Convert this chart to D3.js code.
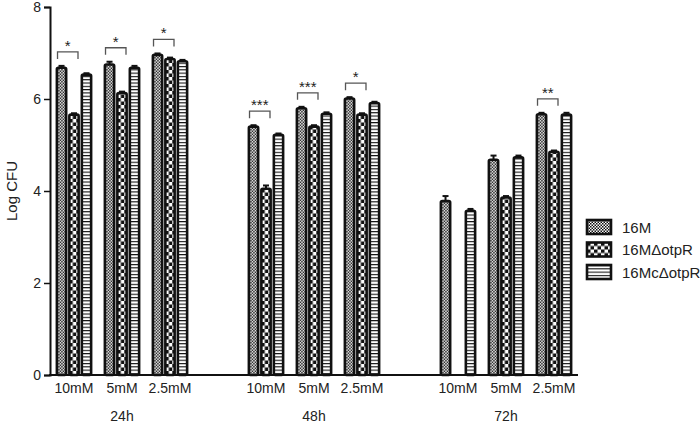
<!DOCTYPE html>
<html>
<head>
<meta charset="utf-8">
<script src="https://cdn.jsdelivr.net/npm/d3@7"></script>
<style>
  body { margin: 0; background: #fff; }
  text { font-family: "Liberation Sans", Arial, Helvetica, sans-serif; fill: #222; }
</style>
</head>
<body>
<svg id="chart" width="700" height="423"></svg>
<script>
var times = ['24h', '48h', '72h']
var concs = ['10mM', '5mM', '2.5mM']
var series = ['16M', '16M\u0394otpR', '16Mc\u0394otpR']

// one value per time/concentration, in order 24h 10,5,2.5 / 48h ... / 72h ...
var wt = [6.68, 6.75, 6.96, 5.40, 5.80, 6.01, 3.78, 4.68, 5.67]
var wtErr = [0.04, 0.06, 0.03, 0.03, 0.03, 0.03, 0.11, 0.09, 0.03]
var mut = [5.66, 6.13, 6.87, 4.05, 5.40, 5.66, 0, 3.86, 4.85]
var mutErr = [0.03, 0.03, 0.03, 0.07, 0.03, 0.03, 0, 0.03, 0.03]
var comp = [6.53, 6.68, 6.82, 5.22, 5.68, 5.91, 3.57, 4.73, 5.66]
var compErr = [0.03, 0.04, 0.03, 0.03, 0.03, 0.03, 0.04, 0.04, 0.04]
var stars = ['*', '*', '*', '***', '***', '*', '', '', '**']
var yTicks = [0, 2, 4, 6, 8]

var svg = d3.select('#chart')

// patterns
var defs = svg.append('defs')

var p1 = defs.append('pattern').attr('id', 'pWt')
  .attr('patternUnits', 'userSpaceOnUse').attr('width', 3).attr('height', 3)
p1.append('rect').attr('width', 3).attr('height', 3).attr('fill', '#fff')
p1.append('rect').attr('width', 1.5).attr('height', 1.5).attr('fill', '#111')
p1.append('rect').attr('x', 1.5).attr('y', 1.5).attr('width', 1.5).attr('height', 1.5).attr('fill', '#111')

var p2 = defs.append('pattern').attr('id', 'pMut')
  .attr('patternUnits', 'userSpaceOnUse').attr('width', 7).attr('height', 7)
p2.append('rect').attr('width', 7).attr('height', 7).attr('fill', '#fff')
p2.append('rect').attr('width', 3.5).attr('height', 3.5).attr('fill', '#111')
p2.append('rect').attr('x', 3.5).attr('y', 3.5).attr('width', 3.5).attr('height', 3.5).attr('fill', '#111')

var p3 = defs.append('pattern').attr('id', 'pComp')
  .attr('patternUnits', 'userSpaceOnUse').attr('width', 4).attr('height', 3.3)
p3.append('rect').attr('width', 4).attr('height', 3.3).attr('fill', '#fff')
p3.append('rect').attr('width', 4).attr('height', 1.1).attr('fill', '#111')

var fills = ['url(#pWt)', 'url(#pMut)', 'url(#pComp)']

// slots: three concentrations per time point, one empty slot between time points
var slots = []
times.forEach(function (t, i) {
  concs.forEach(function (c) { slots.push(t + '|' + c) })
  if (i < times.length - 1) slots.push('gap' + i)
})

var x = d3.scaleBand().domain(slots).range([50, 578])
  .paddingInner(0.22).paddingOuter(0.11)
var xs = d3.scaleBand().domain(series).range([0, x.bandwidth()])
var y = d3.scaleLinear().domain([0, 8]).range([375, 7])

var rows = []
times.forEach(function (t, ti) {
  concs.forEach(function (c, ci) {
    var k = ti * 3 + ci
    rows.push({
      key: t + '|' + c, time: t, conc: c, star: stars[k],
      bars: [
        { s: series[0], v: wt[k], e: wtErr[k], f: fills[0] },
        { s: series[1], v: mut[k], e: mutErr[k], f: fills[1] },
        { s: series[2], v: comp[k], e: compErr[k], f: fills[2] }
      ]
    })
  })
})

var groups = svg.selectAll('g.grp').data(rows)
  .enter().append('g')
    .attr('class', 'grp')
    .attr('transform', function (d) { return 'translate(' + x(d.key) + ',0)' })

var bars = groups.selectAll('g.bar')
  .data(function (d) { return d.bars.filter(function (b) { return b.v > 0 }) })
  .enter().append('g')
    .attr('class', 'bar')

bars.append('rect')
  .attr('x', function (d) { return xs(d.s) + 1.6 })
  .attr('y', function (d) { return y(d.v) })
  .attr('width', xs.bandwidth() - 3.2)
  .attr('height', function (d) { return y(0) - y(d.v) })
  .attr('fill', function (d) { return d.f })
  .attr('stroke', '#111')
  .attr('stroke-width', 2.6)
  .attr('rx', 1.5)

bars.append('line')
  .attr('x1', function (d) { return xs(d.s) + xs.bandwidth() / 2 })
  .attr('x2', function (d) { return xs(d.s) + xs.bandwidth() / 2 })
  .attr('y1', function (d) { return y(d.v) })
  .attr('y2', function (d) { return y(d.v + d.e) })
  .attr('stroke', '#111').attr('stroke-width', 2)

bars.append('line')
  .attr('x1', function (d) { return xs(d.s) + xs.bandwidth() / 2 - 3 })
  .attr('x2', function (d) { return xs(d.s) + xs.bandwidth() / 2 + 3 })
  .attr('y1', function (d) { return y(d.v + d.e) })
  .attr('y2', function (d) { return y(d.v + d.e) })
  .attr('stroke', '#111').attr('stroke-width', 2)

// significance brackets between 16M and the deletion mutant
var sig = groups.filter(function (d) { return d.star })
sig.each(function (d) {
  var g = d3.select(this)
  var top = d3.min(d.bars.slice(0, 2), function (b) { return y(b.v + b.e) })
  var by = top - 14
  var x1 = xs(series[0]) + xs.bandwidth() / 2 - 4
  var x2 = xs(series[1]) + xs.bandwidth() / 2 + 4
  g.append('path')
    .attr('d', 'M' + x1 + ',' + (by + 7) + 'V' + by + 'H' + x2 + 'V' + (by + 7))
    .attr('fill', 'none').attr('stroke', '#555').attr('stroke-width', 1.3)
  g.append('text')
    .attr('x', (x1 + x2) / 2)
    .attr('y', by - 1)
    .attr('text-anchor', 'middle')
    .style('font-size', '15px')
    .text(d.star)
})

// axes
var yAxis = d3.axisLeft(y).tickValues(yTicks).tickSize(6).tickPadding(3)
var ya = svg.append('g').attr('transform', 'translate(50,0)').call(yAxis)
ya.select('.domain').attr('stroke', '#111').attr('stroke-width', 2)
ya.selectAll('.tick line').attr('stroke', '#111').attr('stroke-width', 1.5)
ya.selectAll('.tick text').style('font-size', '14px').attr('fill', '#222')
  .style('font-family', '"Liberation Sans", Arial, sans-serif')

svg.append('line')
  .attr('x1', 49).attr('x2', 578)
  .attr('y1', y(0)).attr('y2', y(0))
  .attr('stroke', '#111').attr('stroke-width', 2)

svg.selectAll('text.conc').data(rows)
  .enter().append('text')
    .attr('class', 'conc')
    .attr('x', function (d) { return x(d.key) + x.bandwidth() / 2 })
    .attr('y', 393)
    .attr('text-anchor', 'middle')
    .style('font-size', '14px')
    .text(function (d) { return d.conc })

svg.selectAll('text.time').data(times)
  .enter().append('text')
    .attr('class', 'time')
    .attr('x', function (t) {
      return (x(t + '|' + concs[0]) + x(t + '|' + concs[2]) + x.bandwidth()) / 2
    })
    .attr('y', 421)
    .attr('text-anchor', 'middle')
    .style('font-size', '14px')
    .text(function (t) { return t })

svg.append('text')
  .attr('transform', 'translate(17,' + y(4) + ') rotate(-90)')
  .attr('text-anchor', 'middle')
  .style('font-size', '15px')
  .text('Log CFU')

// legend
var legend = svg.selectAll('g.leg').data(series)
  .enter().append('g')
    .attr('class', 'leg')
    .attr('transform', function (d, i) { return 'translate(587,' + (220 + i * 22.5) + ')' })

legend.append('rect')
  .attr('width', 24).attr('height', 14)
  .attr('fill', function (d, i) { return fills[i] })
  .attr('stroke', '#111').attr('stroke-width', 2.6)

legend.append('text')
  .attr('x', 35).attr('y', 12.5)
  .style('font-size', '15px')
  .text(function (d) { return d })
</script>
</body>
</html>
